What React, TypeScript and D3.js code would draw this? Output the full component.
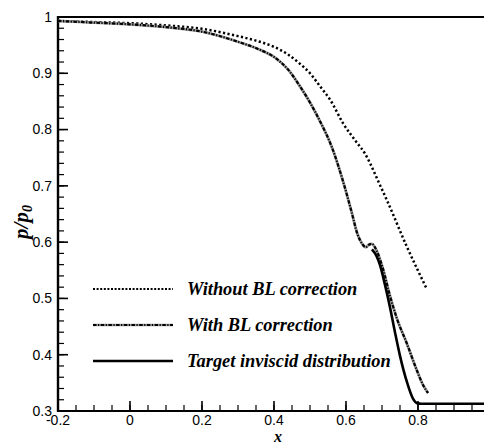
import React from "react";
import * as d3 from "d3";

const withoutX = [-0.2, -0.1, 0.0, 0.1, 0.2, 0.3, 0.35, 0.4, 0.44, 0.47, 0.5, 0.53, 0.556, 0.592, 0.63, 0.653, 0.667, 0.689, 0.714, 0.769, 0.825];
const withoutY = [0.993, 0.991, 0.989, 0.985, 0.979, 0.966, 0.958, 0.947, 0.933, 0.918, 0.9, 0.875, 0.853, 0.811, 0.777, 0.757, 0.74, 0.709, 0.674, 0.592, 0.516];

const withX = [-0.2, -0.1, 0.0, 0.1, 0.2, 0.3, 0.36, 0.4, 0.44, 0.47, 0.5, 0.53, 0.56, 0.59, 0.615, 0.632, 0.645, 0.655, 0.665, 0.672, 0.685, 0.703, 0.722, 0.741, 0.769, 0.797, 0.815, 0.828];
const withY = [0.993, 0.99, 0.987, 0.982, 0.974, 0.956, 0.942, 0.929, 0.906, 0.879, 0.848, 0.812, 0.77, 0.712, 0.655, 0.614, 0.597, 0.591, 0.596, 0.597, 0.585, 0.552, 0.505, 0.465, 0.42, 0.372, 0.345, 0.332];

const targetX = [0.672, 0.685, 0.694, 0.708, 0.722, 0.736, 0.75, 0.769, 0.786, 0.797, 0.81, 1.0];
const targetY = [0.587, 0.575, 0.56, 0.525, 0.485, 0.44, 0.398, 0.352, 0.322, 0.314, 0.313, 0.313];

const xMajor = [-0.2, 0, 0.2, 0.4, 0.6, 0.8];
const xMajorLabels = ["-0.2", "0", "0.2", "0.4", "0.6", "0.8"];
const yMajor = [0.3, 0.4, 0.5, 0.6, 0.7, 0.8, 0.9, 1.0];
const yMajorLabels = ["0.3", "0.4", "0.5", "0.6", "0.7", "0.8", "0.9", "1"];

const legendLabels = ["Without BL correction", "With BL correction", "Target inviscid distribution"];

const W = 484, H = 444;
const L = 58, T = 17, B = 411, R = 490;

export default function App() {
  const x = d3.scaleLinear().domain([-0.2, 1.0]).range([L, R]);
  const y = d3.scaleLinear().domain([0.3, 1.0]).range([B, T]);
  const line = d3.line<[number, number]>().x(d => x(d[0])).y(d => y(d[1])).curve(d3.curveMonotoneX);
  const pWithout = line(withoutX.map((v, i) => [v, withoutY[i]]) as [number, number][]) || "";
  const pWith = line(withX.map((v, i) => [v, withY[i]]) as [number, number][]) || "";
  const pTarget = line(targetX.map((v, i) => [v, targetY[i]]) as [number, number][]) || "";

  const xMinor = d3.range(-0.2, 1.0001, 0.05).filter(v => v <= 0.98);
  const yMinor = d3.range(0.3, 1.0001, 0.02);

  const legY = [289, 325, 361];
  const sans = "'Liberation Sans', Arial, sans-serif";
  const serif = "'Liberation Serif', 'Times New Roman', serif";

  return (
    <svg width={W} height={H} style={{ position: "fixed", left: 0, top: 0, background: "#fff" }}>
      <defs>
        <clipPath id="plot">
          <rect x={L} y={T - 2} width={W - L} height={B - T + 4} />
        </clipPath>
      </defs>
      <rect width={W} height={H} fill="#fff" />
      {yMinor.map((v, i) => (
        <line key={"ym" + i} x1={L} x2={L + 6} y1={y(v)} y2={y(v)} stroke="#000" strokeWidth={1.2} />
      ))}
      {yMajor.map((v, i) => (
        <line key={"yM" + i} x1={L} x2={L + 10} y1={y(v)} y2={y(v)} stroke="#000" strokeWidth={1.6} />
      ))}
      {xMinor.map((v, i) => (
        <line key={"xm" + i} x1={x(v)} x2={x(v)} y1={B} y2={B - 6} stroke="#000" strokeWidth={1.2} />
      ))}
      {xMajor.map((v, i) => (
        <line key={"xM" + i} x1={x(v)} x2={x(v)} y1={B} y2={B - 10} stroke="#000" strokeWidth={1.6} />
      ))}
      <line x1={L} x2={W} y1={T} y2={T} stroke="#000" strokeWidth={2} />
      <line x1={L} x2={W} y1={B} y2={B} stroke="#000" strokeWidth={2.2} />
      <line x1={L} x2={L} y1={T - 1} y2={B + 1} stroke="#000" strokeWidth={2.4} />
      {yMajor.map((v, i) => (
        <text key={"yl" + i} x={52} y={y(v)} dy="0.35em" textAnchor="end" fontFamily={sans} fontSize={14} fill="#000">
          {yMajorLabels[i]}
        </text>
      ))}
      {xMajor.map((v, i) => (
        <text key={"xl" + i} x={x(v)} y={425} textAnchor="middle" fontFamily={sans} fontSize={14} fill="#000">
          {xMajorLabels[i]}
        </text>
      ))}
      <text x={278} y={441.5} textAnchor="middle" fontFamily={serif} fontStyle="italic" fontWeight="bold" fontSize={16}>x</text>
      <text transform="translate(28,222) rotate(-90)" textAnchor="middle" fontFamily={serif} fontStyle="italic" fontWeight="bold" fontSize={21}>
        p/p<tspan fontSize={14} dy="4">0</tspan>
      </text>
      <g clipPath="url(#plot)" fill="none">
        <path d={pWithout} stroke="#000" strokeWidth={2.5} strokeDasharray="2.2,2.4" />
        <path d={pWith} stroke="#999" strokeWidth={2.8} />
        <path d={pWith} stroke="#000" strokeWidth={2.2} strokeDasharray="3.5,1.5,1.2,1.5" />
        <path d={pTarget} stroke="#000" strokeWidth={2.6} />
      </g>
      <line x1={93} x2={173} y1={legY[0]} y2={legY[0]} stroke="#000" strokeWidth={2.2} strokeDasharray="2,1.6" />
      <line x1={93} x2={173} y1={legY[1]} y2={legY[1]} stroke="#999" strokeWidth={2.6} />
      <line x1={93} x2={173} y1={legY[1]} y2={legY[1]} stroke="#000" strokeWidth={2} strokeDasharray="3.5,1.5,1.2,1.5" />
      <line x1={93} x2={173} y1={legY[2]} y2={legY[2]} stroke="#000" strokeWidth={2.6} />
      {legendLabels.map((t, i) => (
        <text key={"lg" + i} x={187} y={legY[i]} dy="0.33em" fontFamily={serif} fontStyle="italic" fontWeight="bold" fontSize={18.4} fill="#000">
          {t}
        </text>
      ))}
    </svg>
  );
}
